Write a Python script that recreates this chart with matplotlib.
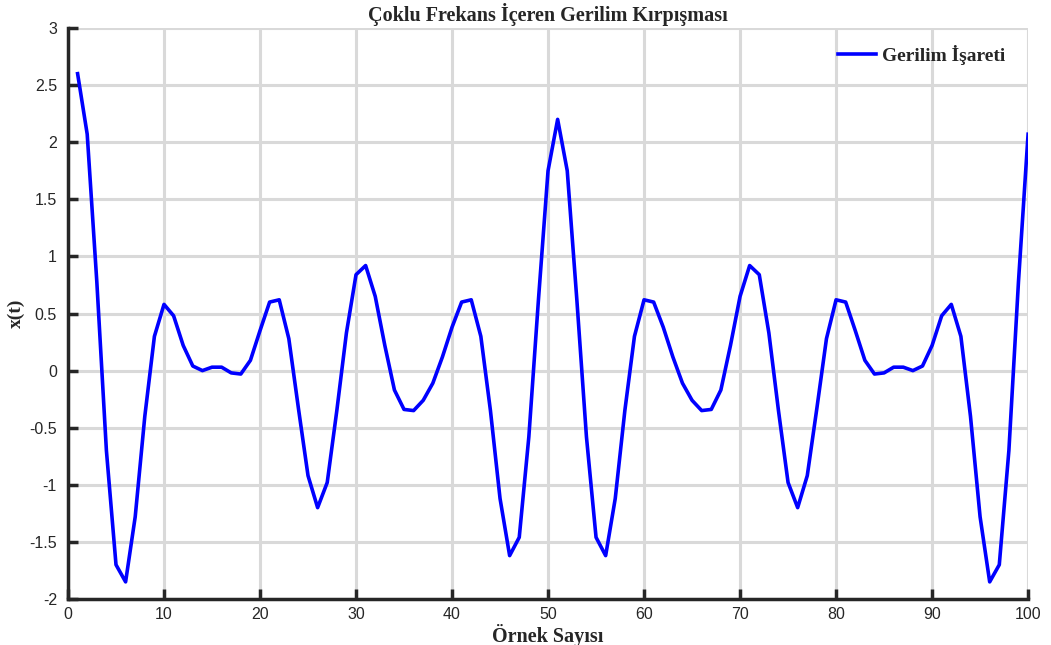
import numpy as np
import matplotlib
matplotlib.use("Agg")
import matplotlib.pyplot as plt

# sample index and clipped voltage samples
n = np.arange(1, 101)
x_t = [2.60, 2.07, 0.78, -0.70, -1.70, -1.85, -1.28, -0.40, 0.30, 0.58,
       0.48, 0.22, 0.04, 0.00, 0.03, 0.03, -0.02, -0.03, 0.09, 0.35,
       0.60, 0.62, 0.28, -0.33, -0.92, -1.20, -0.98, -0.35, 0.33, 0.84,
       0.92, 0.65, 0.22, -0.17, -0.34, -0.35, -0.26, -0.11, 0.12, 0.38,
       0.60, 0.62, 0.30, -0.35, -1.12, -1.62, -1.46, -0.58, 0.62, 1.75,
       2.20, 1.75, 0.62, -0.58, -1.46, -1.62, -1.12, -0.35, 0.30, 0.62,
       0.60, 0.38, 0.12, -0.11, -0.26, -0.35, -0.34, -0.17, 0.22, 0.65,
       0.92, 0.84, 0.33, -0.35, -0.98, -1.20, -0.92, -0.33, 0.28, 0.62,
       0.60, 0.35, 0.09, -0.03, -0.02, 0.03, 0.03, 0.00, 0.04, 0.22,
       0.48, 0.58, 0.30, -0.40, -1.28, -1.85, -1.70, -0.70, 0.78, 2.07]

title = "Çoklu Frekans İçeren Gerilim Kırpışması"
xlabel = "Örnek Sayısı"
ylabel = "x(t)"
legend_label = "Gerilim İşareti"

xticks = np.arange(0, 101, 10)
yticks = np.arange(-2, 3.01, 0.5)

serif = "Liberation Serif"
sans = "Liberation Sans"
dark = "#262626"

fig = plt.figure(figsize=(10.51, 6.45), dpi=100)
ax = fig.add_axes([0.0647, 0.0713, 0.9135, 0.8853])

ax.plot(n, x_t, color="#0000ff", linewidth=2.6, label=legend_label)

ax.set_xlim(0, 100)
ax.set_ylim(-2, 3)
ax.set_xticks(xticks)
ax.set_yticks(yticks)
ax.set_yticklabels([f"{v:g}" for v in yticks])

ax.grid(True, color="#d9d9d9", linewidth=2.2)
ax.set_axisbelow(True)

for side in ["top", "right"]:
    ax.spines[side].set_visible(False)
for side in ["left", "bottom"]:
    ax.spines[side].set_color(dark)
    ax.spines[side].set_linewidth(2.5)

ax.tick_params(direction="in", length=7, width=2.5, color=dark,
               labelcolor=dark, labelsize=11.5, pad=6)
ax.tick_params(axis="y", pad=8)
for lab in ax.get_xticklabels() + ax.get_yticklabels():
    lab.set_fontfamily(sans)

ax.set_title(title, fontfamily=serif, fontweight="bold", fontsize=14.5,
             color=dark, pad=5)
ax.set_xlabel(xlabel, fontfamily=serif, fontweight="bold", fontsize=14.5,
              color=dark, labelpad=1)
ax.set_ylabel(ylabel, fontfamily=serif, fontweight="bold", fontsize=14,
              color=dark, labelpad=3)

leg = ax.legend(loc="upper right", bbox_to_anchor=(0.9935, 1.0),
                frameon=False, handlelength=1.95, handletextpad=0.3,
                borderaxespad=0.45,
                prop={"family": serif, "weight": "bold", "size": 14})
for t in leg.get_texts():
    t.set_color(dark)

fig.savefig("out.png", dpi=100)
